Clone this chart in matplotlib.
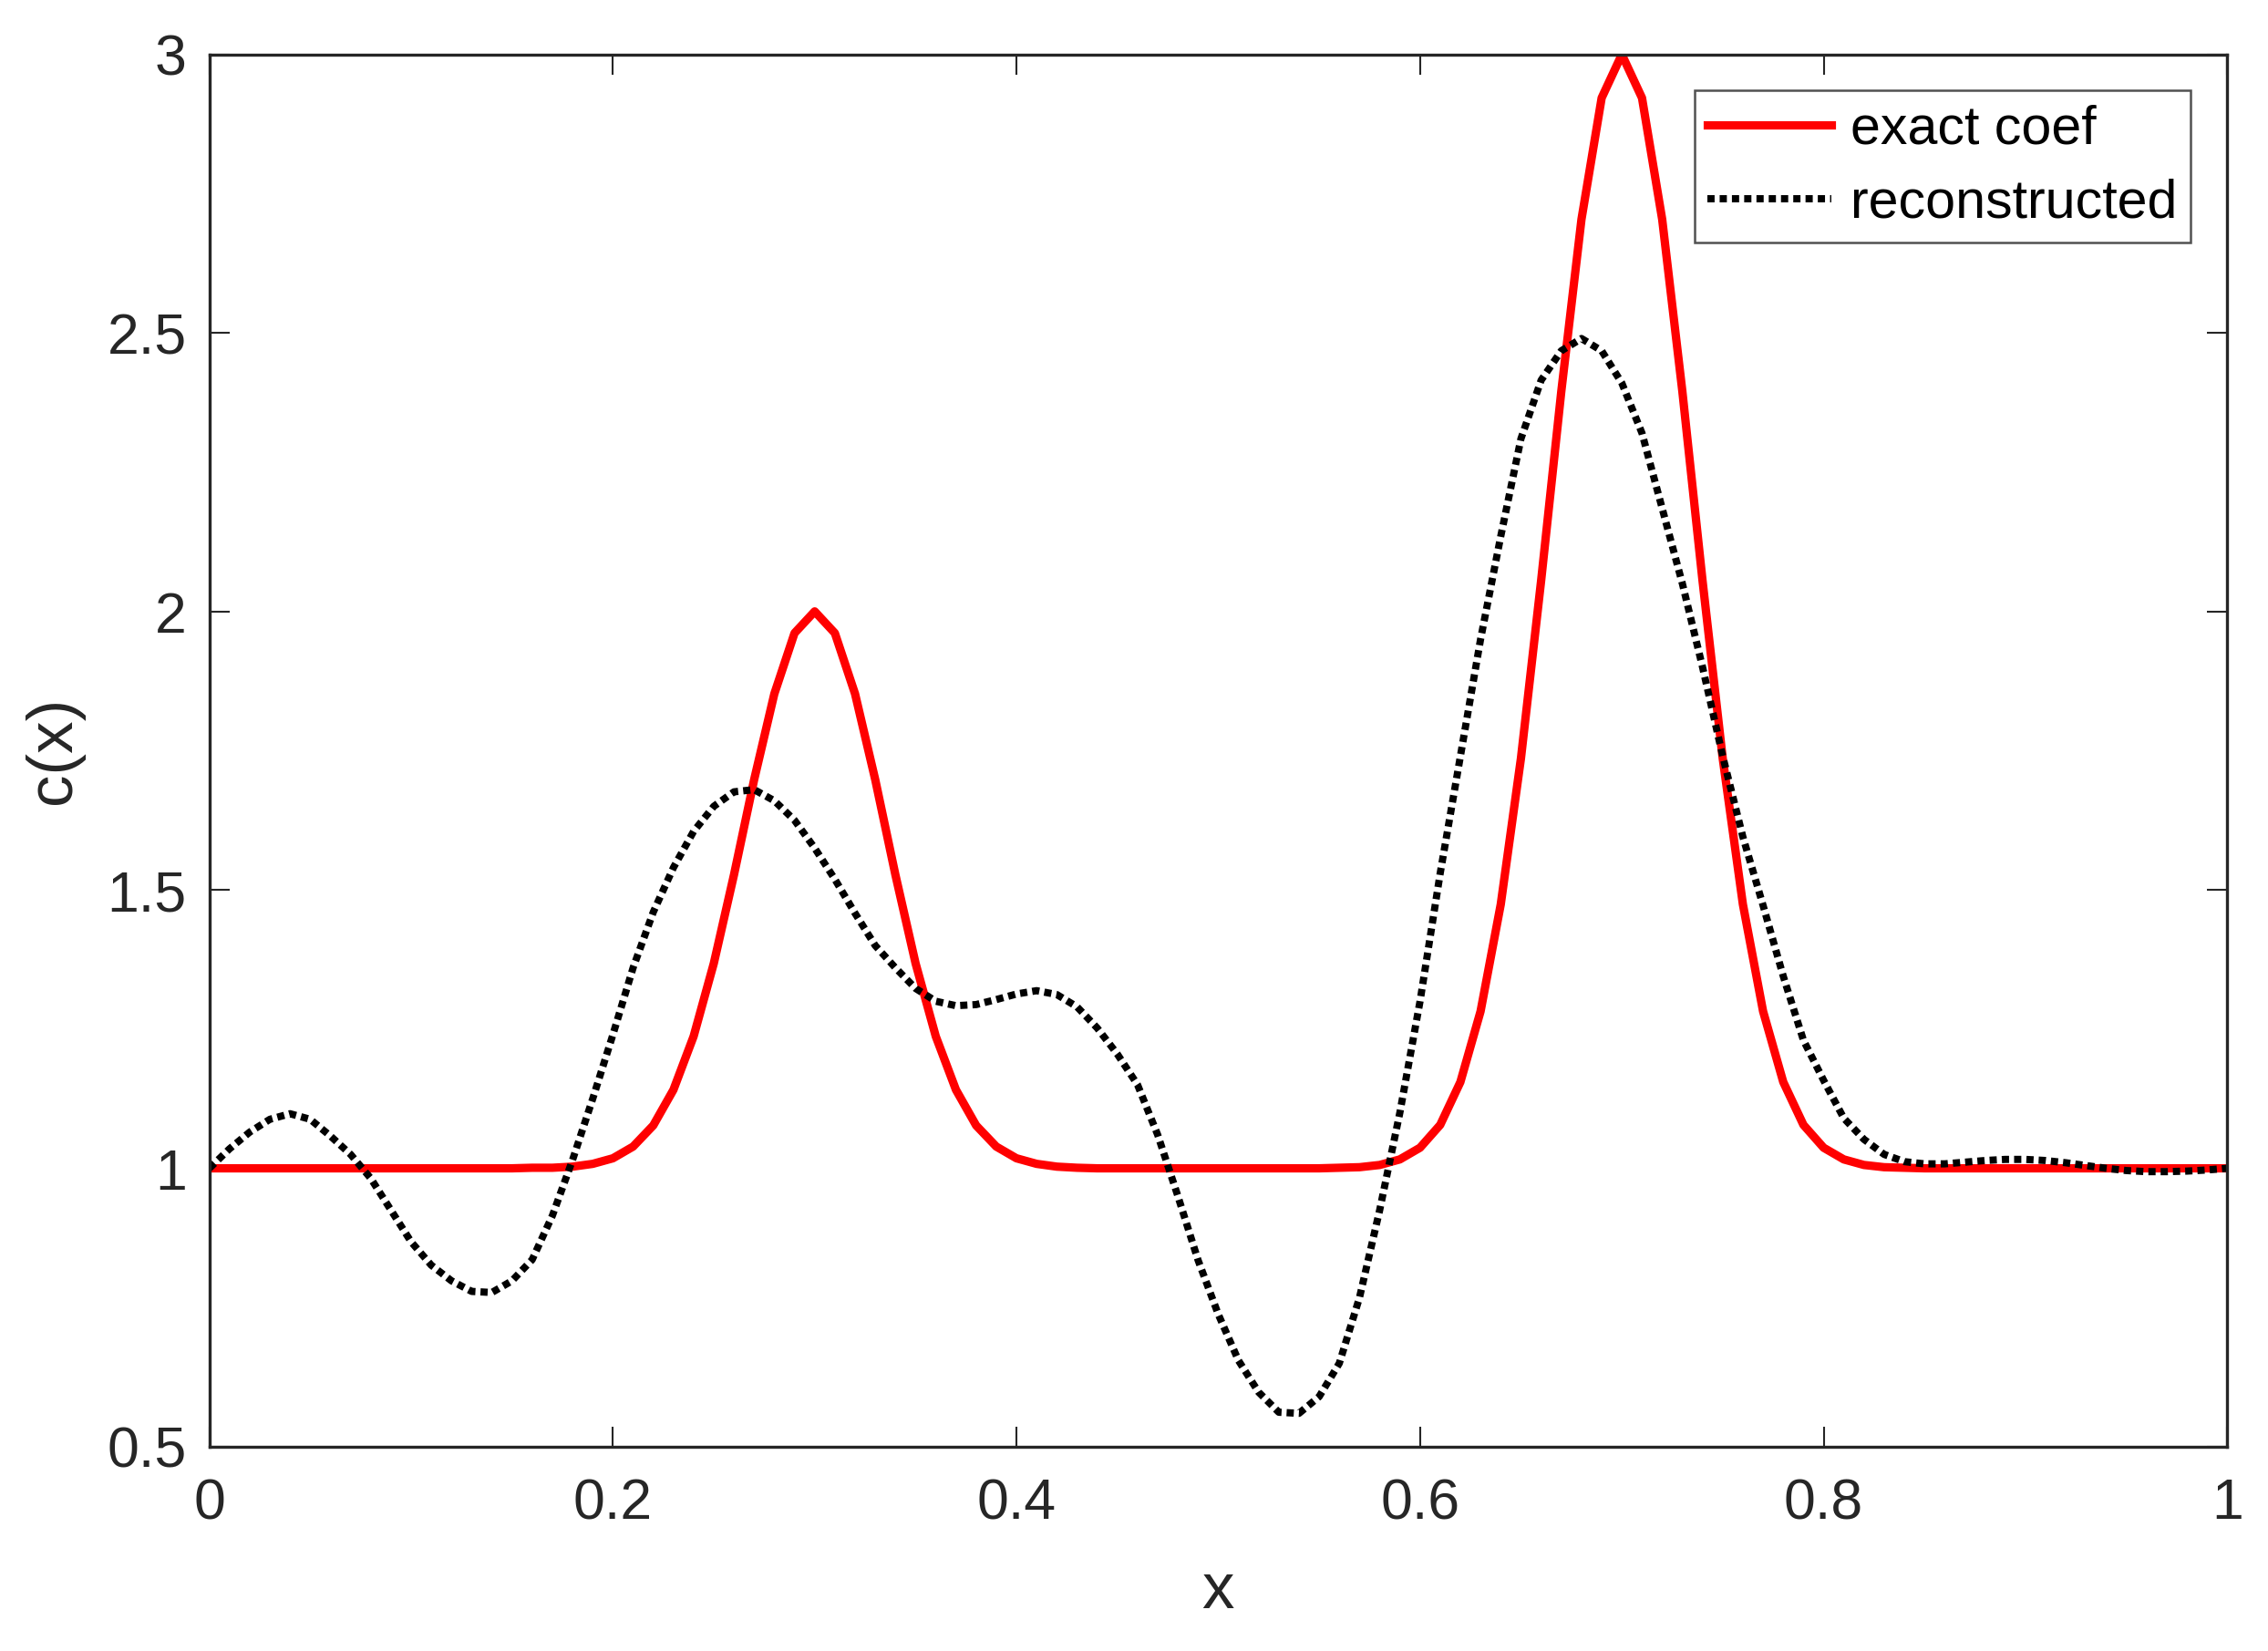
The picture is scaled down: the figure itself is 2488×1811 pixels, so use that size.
import numpy as np
from matplotlib import pyplot as plt

plt.rcParams['font.family'] = ['Liberation Sans', 'DejaVu Sans']

# grid in x, step 0.01
x = np.arange(0, 101) / 100

exact_coef = [
    1.000, 1.000, 1.000, 1.000, 1.000, 1.000, 1.000, 1.000, 1.000, 1.000,
    1.000, 1.000, 1.000, 1.000, 1.000, 1.000, 1.001, 1.001, 1.003, 1.008,
    1.018, 1.039, 1.077, 1.141, 1.237, 1.368, 1.527, 1.698, 1.852, 1.961,
    2.000, 1.961, 1.852, 1.698, 1.527, 1.368, 1.237, 1.141, 1.077, 1.039,
    1.018, 1.008, 1.003, 1.001, 1.000, 1.000, 1.000, 1.000, 1.000, 1.000,
    1.000, 1.000, 1.000, 1.000, 1.000, 1.000, 1.001, 1.002, 1.006, 1.016,
    1.037, 1.078, 1.155, 1.282, 1.474, 1.736, 2.055, 2.395, 2.704, 2.922,
    3.000, 2.922, 2.704, 2.395, 2.055, 1.736, 1.474, 1.282, 1.155, 1.078,
    1.037, 1.016, 1.006, 1.002, 1.001, 1.000, 1.000, 1.000, 1.000, 1.000,
    1.000, 1.000, 1.000, 1.000, 1.000, 1.000, 1.000, 1.000, 1.000, 1.000,
    1.000,
]

reconstructed = [
    1.000, 1.035, 1.065, 1.088, 1.098, 1.088, 1.058, 1.025, 0.982, 0.925,
    0.868, 0.826, 0.798, 0.779, 0.777, 0.798, 0.836, 0.915, 1.015, 1.125,
    1.240, 1.360, 1.460, 1.540, 1.605, 1.650, 1.676, 1.680, 1.660, 1.625,
    1.575, 1.519, 1.458, 1.400, 1.360, 1.323, 1.300, 1.292, 1.294, 1.303,
    1.313, 1.319, 1.312, 1.290, 1.252, 1.205, 1.150, 1.060, 0.950, 0.835,
    0.738, 0.655, 0.598, 0.562, 0.560, 0.590, 0.650, 0.768, 0.925, 1.100,
    1.300, 1.530, 1.740, 1.950, 2.135, 2.310, 2.415, 2.468, 2.490, 2.468,
    2.410, 2.320, 2.185, 2.050, 1.900, 1.740, 1.595, 1.472, 1.345, 1.230,
    1.158, 1.090, 1.052, 1.025, 1.012, 1.008, 1.008, 1.011, 1.014, 1.016,
    1.016, 1.014, 1.010, 1.005, 1.000, 0.996, 0.994, 0.994, 0.995, 0.997,
    1.000,
]

xticks = [0, 0.2, 0.4, 0.6, 0.8, 1]
xticklabels = ['0', '0.2', '0.4', '0.6', '0.8', '1']
yticks = [0.5, 1, 1.5, 2, 2.5, 3]
yticklabels = ['0.5', '1', '1.5', '2', '2.5', '3']

axis_color = '#262626'

fig = plt.figure(figsize=(2488 / 300, 1811 / 300), dpi=300)
ax = fig.add_axes([0.0923, 0.1237, 0.8897, 0.8433])

ax.plot(x, exact_coef, color='#ff0000', lw=2.2, label='exact coef')
ax.plot(x, reconstructed, color='black', lw=1.9, linestyle=(0, (1.0, 0.7)),
        label='reconstructed')

ax.set_xlim(0, 1)
ax.set_ylim(0.5, 3)
ax.set_xticks(xticks)
ax.set_xticklabels(xticklabels)
ax.set_yticks(yticks)
ax.set_yticklabels(yticklabels)

ax.tick_params(direction='in', length=5.3, width=0.5, colors=axis_color,
               labelsize=15, top=True, right=True)
ax.tick_params(axis='x', pad=8)
ax.tick_params(axis='y', pad=6)
for s in ax.spines.values():
    s.set_color(axis_color)
    s.set_linewidth(0.8)

ax.set_xlabel('x', fontsize=17, color=axis_color, labelpad=8)
ax.set_ylabel('c(x)', fontsize=17, color=axis_color, labelpad=6)

leg = ax.legend(loc='upper right', bbox_to_anchor=(0.982, 0.974), fontsize=14.2,
                frameon=True, fancybox=False, edgecolor=axis_color,
                handlelength=2.3, handletextpad=0.35, borderpad=0.25,
                labelspacing=0.45, borderaxespad=0)
leg.get_frame().set_linewidth(0.6)

fig.savefig('out.png', dpi=300)
